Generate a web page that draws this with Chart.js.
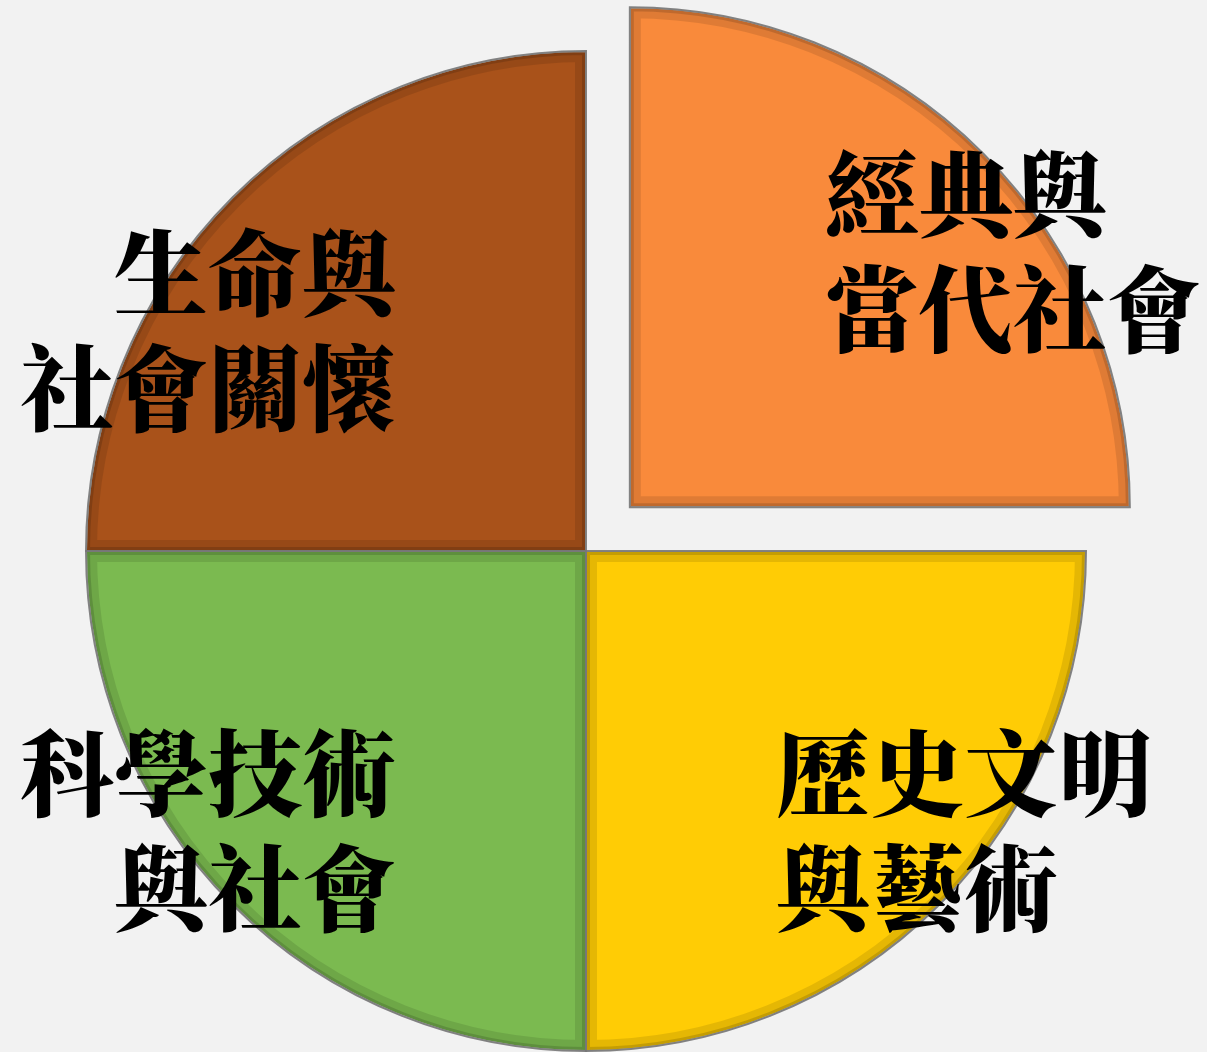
<!DOCTYPE html>
<html>
<head>
<meta charset="utf-8">
<script src="https://cdn.jsdelivr.net/npm/chart.js@4.4.1/dist/chart.umd.min.js"></script>
<style>
html,body{margin:0;padding:0;background:#f2f2f2;}
#wrap{width:1207px;height:1052px;}
</style>
</head>
<body>
<div id="wrap"><canvas id="c" width="1207" height="1052"></canvas></div>
<script>
// ---- data ----
const categories = ['經典與\n當代社會', '歷史文明\n與藝術', '科學技術\n與社會', '生命與\n社會關懷'];
const values = [25, 25, 25, 25];
const sliceColors = ['#f98a3b', '#ffcc05', '#7bba50', '#a9521a'];
// Chart.js v4 draws arcs shifted by offset/4
const sliceOffsets = [248, 0, 0, 0];

// label placement relative to slice (fractions of radius), style config
const labelLayout = [
  {fx: 0.39, fy: -0.51, align: 'left'},
  {fx: 0.38, fy: 0.56, align: 'left'},
  {fx: -0.38, fy: 0.56, align: 'right'},
  {fx: -0.38, fy: -0.44, align: 'right'}
];

function sliceGeom(arc) {
  const p = arc.getProps(['x', 'y', 'startAngle', 'endAngle', 'outerRadius'], true);
  const off = (arc.options.offset || 0) / 4;
  const mid = (p.startAngle + p.endAngle) / 2;
  return {cx: p.x + Math.cos(mid) * off, cy: p.y + Math.sin(mid) * off, r: p.outerRadius, s: p.startAngle, e: p.endAngle};
}

const bevelPlugin = {
  id: 'bevel',
  afterDatasetsDraw(chart) {
    const ctx = chart.ctx;
    const meta = chart.getDatasetMeta(0);
    meta.data.forEach((arc) => {
      const g = sliceGeom(arc);
      const path = () => {
        ctx.beginPath();
        ctx.moveTo(g.cx, g.cy);
        ctx.arc(g.cx, g.cy, g.r, g.s, g.e);
        ctx.closePath();
      };
      ctx.save();
      path();
      ctx.clip();
      ctx.lineJoin = 'miter';
      ctx.lineWidth = 22;
      ctx.strokeStyle = 'rgba(0,0,0,0.10)';
      path(); ctx.stroke();
      ctx.lineWidth = 8;
      ctx.strokeStyle = 'rgba(0,0,0,0.14)';
      path(); ctx.stroke();
      ctx.restore();
      ctx.save();
      ctx.lineWidth = 2;
      ctx.strokeStyle = 'rgba(120,120,120,0.9)';
      path(); ctx.stroke();
      ctx.restore();
    });
  }
};

const labelPlugin = {
  id: 'labels',
  afterDraw(chart) {
    const ctx = chart.ctx;
    const meta = chart.getDatasetMeta(0);
    ctx.save();
    ctx.fillStyle = '#000';
    ctx.font = '900 94px "Noto Serif CJK TC", "Noto Sans CJK TC", serif';
    ctx.textBaseline = 'middle';
    meta.data.forEach((arc, i) => {
      const g = sliceGeom(arc);
      const L = labelLayout[i];
      const lines = categories[i].split('\n');
      const lh = 115;
      const x = g.cx + L.fx * g.r;
      const y0 = g.cy + L.fy * g.r - (lines.length - 1) * lh / 2;
      ctx.textAlign = L.align;
      lines.forEach((ln, k) => ctx.fillText(ln, x, y0 + k * lh));
    });
    ctx.restore();
  }
};

new Chart(document.getElementById('c'), {
  type: 'pie',
  data: {
    labels: categories,
    datasets: [{
      data: values,
      backgroundColor: sliceColors,
      borderColor: '#e8e8e8',
      borderWidth: 2,
      offset: sliceOffsets,
      hoverOffset: 0,
      radius: 500
    }]
  },
  options: {
    responsive: false,
    animation: false,
    layout: {padding: {top: 50, right: 35, bottom: 0, left: 0}},
    plugins: {legend: {display: false}, tooltip: {enabled: false}}
  },
  plugins: [bevelPlugin, labelPlugin]
});
</script>
</body>
</html>
